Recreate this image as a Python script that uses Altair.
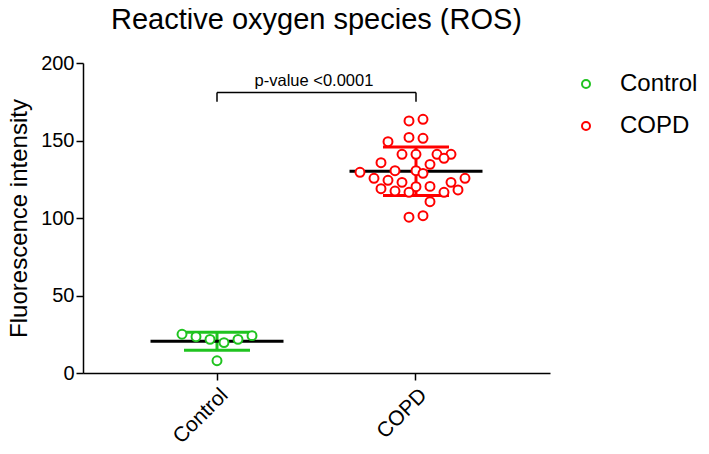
import altair as alt
import pandas as pd

groups = ["Control", "COPD"]
colors = ["#1FC31F", "#FF0000"]

control_vals = [25.0, 23.4, 21.7, 19.6, 21.7, 24.1, 7.9]
control_slots = [-5, -3, -1, 1, 3, 5, 0]

copd_vals = [162.6, 163.7, 152.0, 151.4, 149.2, 141.1, 141.1, 141.1, 141.1, 138.5,
             135.7, 134.6, 129.5, 130.5, 130.5, 128.8, 125.6, 125.6, 124.3, 123.0,
             123.0, 120.4, 120.2, 118.9, 117.4, 116.6, 116.6, 118.1, 110.5, 100.5, 101.5]
copd_slots = [-1, 1, -1, 1, -4, -2, 0, 3, 5, 4, -5, 2, -8, -3, 0, 1, -6, 7, -4, -2,
              5, 2, 0, -5, -3, -1, 4, 6, 2, -1, 1]

bracket_y = 181
bracket_tick_y = 175
p_label = "p-value <0.0001"

df = pd.DataFrame({
    "group": ["Control"] * len(control_vals) + ["COPD"] * len(copd_vals),
    "value": control_vals + copd_vals,
    "slot": control_slots + copd_slots,
})

FONT = "Liberation Sans"
W, H = 467, 310

xscale = alt.Scale(type="band", domain=groups, paddingInner=0, paddingOuter=0.1734)
yscale = alt.Scale(domain=[0, 200], nice=False)
cscale = alt.Scale(domain=groups, range=colors)

x_enc = alt.X("group:N", scale=xscale, sort=groups, bandPosition=0.5,
              axis=alt.Axis(title=None, labelAngle=-45, labelFontSize=21, labelPadding=4))
y_enc = alt.Y("value:Q", scale=yscale,
              axis=alt.Axis(title="Fluorescence intensity", values=[0, 50, 100, 150, 200],
                            titleFontSize=24, titleFontWeight="normal", titlePadding=9,
                            labelFontSize=20))

base = alt.Chart(df)

stats = base.transform_aggregate(
    mean="mean(value)", sd="stdev(value)", groupby=["group"]
).transform_calculate(lo="datum.mean - datum.sd", hi="datum.mean + datum.sd")

nolegend = alt.Color("group:N", scale=cscale, legend=None)

sd_rule = stats.mark_rule(strokeWidth=3, opacity=1).encode(
    x=x_enc, y=alt.Y("lo:Q", scale=yscale), y2="hi:Q", color=nolegend)
sd_hi = stats.mark_tick(size=66, thickness=3, opacity=1).encode(
    x=x_enc, y=alt.Y("hi:Q", scale=yscale), color=nolegend)
sd_lo = stats.mark_tick(size=66, thickness=3, opacity=1).encode(
    x=x_enc, y=alt.Y("lo:Q", scale=yscale), color=nolegend)
mean_tick = stats.mark_tick(size=133, thickness=3, color="black", opacity=1).encode(
    x=x_enc, y=alt.Y("mean:Q", scale=yscale))

points = base.mark_point(shape="circle", filled=False, fill="white", fillOpacity=1,
                         size=80, strokeWidth=2, opacity=1).encode(
    x=x_enc,
    xOffset=alt.XOffset("slot:Q", scale=alt.Scale(domain=[-14.214, 14.214], range=[0, 199])),
    y=y_enc,
    color=alt.Color("group:N", scale=cscale, sort=groups,
                    legend=alt.Legend(title=None, orient="none", legendX=491, legendY=9,
                                      labelFontSize=24, symbolSize=64, symbolStrokeWidth=2,
                                      symbolFillColor="white",
                                      labelOffset=22, rowPadding=18, labelColor="black")),
)

bdf = pd.DataFrame({"a": [groups[0]], "b": [groups[1]], "y": [bracket_y], "ty": [bracket_tick_y],
                    "label": [p_label]})
tdf = pd.DataFrame({"g": groups, "y": [bracket_y] * 2, "ty": [bracket_tick_y] * 2})

bx = alt.X("a:N", scale=xscale, bandPosition=0.5)
bracket_h = alt.Chart(bdf).mark_rule(color="black", strokeWidth=1.5).encode(
    x=bx, x2=alt.X2("b:N", bandPosition=0.5), y=alt.Y("y:Q", scale=yscale))
bracket_v = alt.Chart(tdf).mark_rule(color="black", strokeWidth=1.5).encode(
    x=alt.X("g:N", scale=xscale, bandPosition=0.5), y=alt.Y("y:Q", scale=yscale), y2="ty:Q")
p_text = alt.Chart(bdf).mark_text(fontSize=16.5, font=FONT, baseline="alphabetic",
                                  dx=97, dy=-6, color="black").encode(
    x=bx, y=alt.Y("y:Q", scale=yscale), text="label:N")

chart = alt.layer(sd_rule, sd_hi, sd_lo, mean_tick, points, bracket_h, bracket_v, p_text).resolve_legend(
    color="independent"
).properties(
    width=W, height=H,
    title=alt.Title("Reactive oxygen species (ROS)", fontSize=29, fontWeight="normal",
                    font=FONT, color="black", anchor="middle", offset=18),
    autosize=alt.AutoSizeParams(type="none"),
    padding={"left": 75, "top": 55, "right": 151, "bottom": 73},
).configure_view(stroke=None).configure_axis(
    domainColor="black", domainWidth=1.5, tickColor="black", tickWidth=1.5, tickSize=7,
    labelColor="black", titleColor="black", labelFont=FONT, titleFont=FONT, grid=False,
).configure_legend(labelFont=FONT)

chart.save("out.html", embed_options={"renderer": "svg", "actions": False})
